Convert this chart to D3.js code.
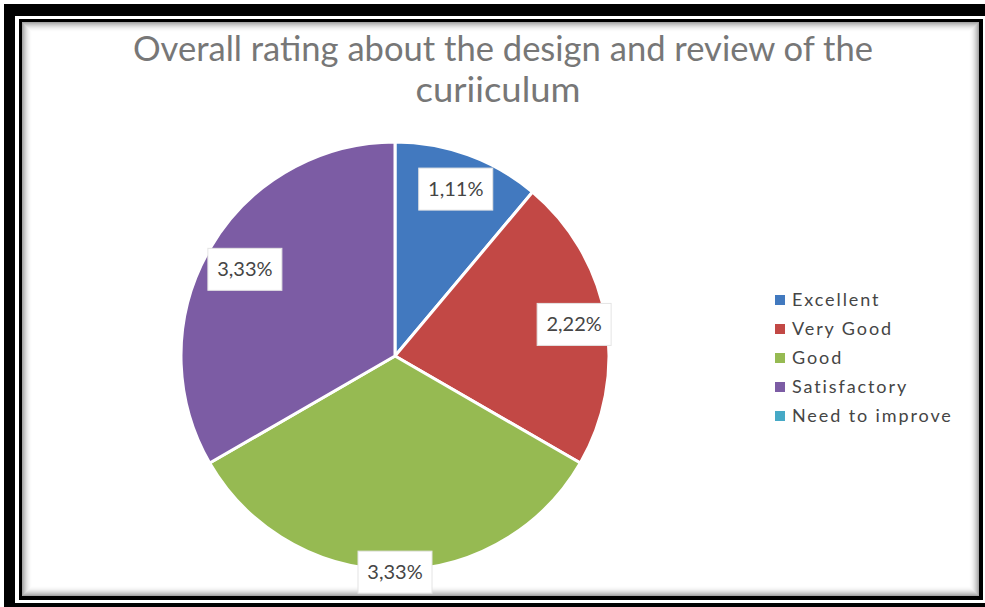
<!DOCTYPE html>
<html>
<head>
<meta charset="utf-8">
<script src="https://cdn.jsdelivr.net/npm/d3@7/dist/d3.min.js"></script>
<style>
  html, body { margin: 0; padding: 0; background: #fff; }
  svg { display: block; }
</style>
</head>
<body>
<svg id="chart" width="985" height="607"></svg>
<script>
// ---- data ----
const titleLines = ["Overall rating about the design and review of the", "curiiculum"];
const categories = ["Excellent", "Very Good", "Good", "Satisfactory", "Need to improve"];
const values = [1.11, 2.22, 3.33, 3.33, 0];
const colors = ["#4279bf", "#c24845", "#96ba52", "#7c5ca4", "#46a9c6"];
// layout: label distance from centre as fraction of radius
const labelRadiusFrac = [0.83, 0.85, 1.01, 0.81, 0.8];

const svg = d3.select("#chart");
const W = 985, H = 607;
const FONT = "Lato, 'Open Sans', sans-serif";

// ---- frame ----
svg.append("rect").attr("x", 4).attr("y", 4).attr("width", W + 10).attr("height", H + 10).attr("fill", "#000");
svg.append("rect").attr("x", 15).attr("y", 16).attr("width", W).attr("height", 587).attr("fill", "#fff");
svg.append("rect").attr("x", 19).attr("y", 19).attr("width", 964).attr("height", 581).attr("fill", "#000");
svg.append("rect").attr("x", 22).attr("y", 22).attr("width", 957).attr("height", 574).attr("fill", "#fff");
// inner shadow
const shadowSteps = d3.range(0, 10);
svg.append("g").selectAll("rect").data(shadowSteps).join("rect")
  .attr("x", d => 22 + d + 0.5).attr("y", d => 22 + d + 0.5)
  .attr("width", d => 957 - 2 * d - 1).attr("height", d => 574 - 2 * d - 1)
  .attr("fill", "none").attr("stroke", "#000")
  .attr("stroke-opacity", d => 0.35 * Math.pow(1 - d / 10, 2));

// ---- title ----
const title = svg.append("g").attr("fill", "#777")
  .attr("font-family", FONT).attr("font-size", 34).attr("text-anchor", "middle");
title.append("text").attr("x", 503).attr("y", 61).attr("textLength", 740).attr("lengthAdjust", "spacingAndGlyphs").text(titleLines[0]);
title.append("text").attr("x", 498).attr("y", 102).attr("textLength", 165).attr("lengthAdjust", "spacingAndGlyphs").text(titleLines[1]);

// ---- pie ----
const cx = 395, cy = 356, R = 214;
const pie = d3.pie().sort(null).value(d => d.v);
const rows = categories.map((c, i) => ({ c, v: values[i], i }));
const arcs = pie(rows);
const arc = d3.arc().innerRadius(0).outerRadius(R);
const g = svg.append("g").attr("transform", `translate(${cx},${cy})`);
g.selectAll("path").data(arcs.filter(a => a.data.v > 0)).join("path")
  .attr("d", arc)
  .attr("fill", d => colors[d.data.i])
  .attr("stroke", "#fff").attr("stroke-width", 3).attr("stroke-linejoin", "round");

// ---- data labels ----
const locale = d3.formatLocale({ decimal: ",", thousands: ".", grouping: [3], currency: ["", "€"] });
const fmt = v => locale.format(".2f")(v) + "%";
const labels = g.selectAll("g.lbl").data(arcs.filter(a => a.data.v > 0)).join("g").attr("class", "lbl")
  .attr("transform", d => {
    const r = R * labelRadiusFrac[d.data.i];
    const a = (d.startAngle + d.endAngle) / 2;
    return `translate(${Math.sin(a) * r},${-Math.cos(a) * r})`;
  });
labels.append("rect").attr("x", -37).attr("y", -21).attr("width", 74).attr("height", 42)
  .attr("fill", "#fff").attr("stroke", "#e4e4e4").attr("stroke-width", 1);
labels.append("text").attr("text-anchor", "middle").attr("dy", 7)
  .attr("font-family", FONT).attr("font-size", 20).attr("fill", "#454545")
  .text(d => fmt(d.data.v));

// ---- legend ----
const ly = d3.scalePoint().domain(categories).range([300, 416]);
const leg = svg.append("g").selectAll("g").data(categories).join("g")
  .attr("transform", c => `translate(775,${ly(c)})`);
leg.append("rect").attr("x", 0).attr("y", -5).attr("width", 10).attr("height", 10)
  .attr("fill", (c, i) => colors[i]);
leg.append("text").attr("x", 17).attr("y", 6)
  .attr("font-family", FONT).attr("font-size", 18).attr("letter-spacing", 1.9).attr("fill", "#454545")
  .text(c => c);
</script>
</body>
</html>
